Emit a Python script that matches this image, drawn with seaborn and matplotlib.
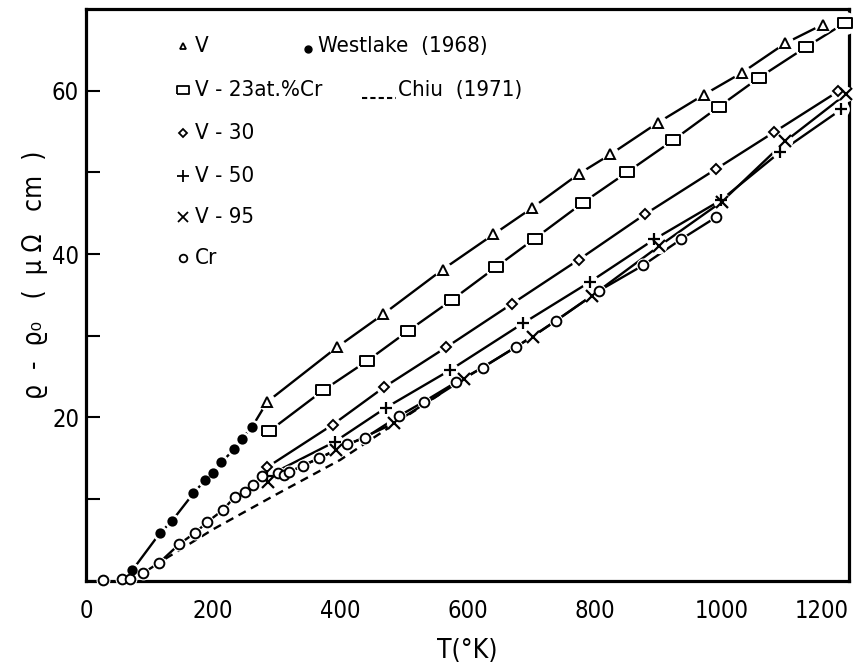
import matplotlib
matplotlib.use('Agg')  # Use non-GUI backend
import matplotlib.pyplot as plt
import seaborn as sns
import pandas as pd
import numpy as np

sns.set_theme(style='white')
plt.rcParams['font.family'] = ['DejaVu Sans']
plt.rcParams['font.stretch'] = 'condensed'

# Resistivity rise rho - rho0 (micro-ohm cm) versus temperature T (K)
v_T = [285, 395, 467, 561, 641, 701, 775, 825, 900, 972, 1032, 1100, 1159]
v_R = [21.9, 28.6, 32.6, 38.1, 42.4, 45.6, 49.8, 52.2, 56.1, 59.5, 62.2, 65.8, 68.1]

v23_T = [288, 373, 442, 507, 576, 645, 706, 782, 851, 923, 995, 1059, 1132, 1194]
v23_R = [18.3, 23.3, 26.9, 30.6, 34.4, 38.4, 41.9, 46.3, 50.0, 53.9, 58.0, 61.6, 65.3, 68.3]

v30_T = [285, 388, 469, 567, 670, 775, 880, 991, 1082, 1183]
v30_R = [13.9, 19.1, 23.7, 28.6, 33.9, 39.3, 44.9, 50.4, 54.9, 59.9]

v50_T = [285, 391, 472, 573, 687, 793, 894, 999, 1092, 1188]
v50_R = [12.8, 17.0, 21.2, 25.8, 31.5, 36.6, 41.8, 46.6, 52.5, 57.7]

v95_T = [286, 394, 485, 594, 703, 796, 902, 1000, 1100, 1196]
v95_R = [12.1, 16.0, 19.3, 24.7, 29.9, 34.9, 41.0, 46.4, 53.8, 59.6]

cr_T = [27, 57, 70, 89, 115, 147, 172, 191, 216, 234, 250, 263, 277, 302, 312, 320,
        341, 367, 410, 439, 493, 531, 582, 624, 676, 739, 807, 876, 936, 991]
cr_R = [0.1, 0.2, 0.2, 0.9, 2.2, 4.5, 5.9, 7.2, 8.7, 10.3, 10.9, 11.7, 12.8, 13.2, 13.0, 13.3,
        14.1, 15.0, 16.7, 17.5, 20.2, 21.9, 24.3, 26.1, 28.6, 31.8, 35.5, 38.6, 41.8, 44.5]

westlake_T = [73, 116, 135, 169, 187, 199, 213, 233, 245, 261]
westlake_R = [1.3, 5.8, 7.3, 10.7, 12.3, 13.2, 14.5, 16.1, 17.4, 18.8]

chiu_T = [125, 200, 300, 400, 460, 560]
chiu_R = [2.7, 6.3, 10.6, 14.8, 17.9, 23.0]

x_ticks = [0, 200, 400, 600, 800, 1000, 1200]
y_ticks = [0, 20, 40, 60]
y_minor = [10, 30, 50]

fig = plt.figure(figsize=(8.6, 6.66), dpi=100)
ax = fig.add_axes([0.100, 0.128, 0.887, 0.8585])

rect = [(-1.45, -1.0), (1.45, -1.0), (1.45, 1.0), (-1.45, 1.0), (-1.45, -1.0)]


def draw_line(T, R, ls='-'):
    df = pd.DataFrame({'T': T, 'R': R})
    sns.lineplot(data=df, x='T', y='R', color='black', lw=1.7, ls=ls,
                 sort=False, estimator=None, ax=ax, zorder=2)


def draw_marks(T, R, marker, ms, face='white', halo=5, mew=1.4):
    ax.plot(T, R, ls='none', marker='o', ms=ms + halo, mfc='white', mec='white',
            zorder=3, clip_on=False)
    ax.plot(T, R, ls='none', marker=marker, ms=ms, mfc=face, mec='black', mew=mew,
            zorder=4, clip_on=False)


# connecting lines
draw_line(westlake_T + v_T[:1], westlake_R + v_R[:1])
draw_line(v_T, v_R)
draw_line(v23_T, v23_R)
draw_line(v30_T, v30_R)
draw_line(v50_T, v50_R)
draw_line(v95_T, v95_R)
draw_line(cr_T[3:], cr_R[3:])
draw_line(chiu_T, chiu_R, ls=(0, (3.5, 2.5)))

# markers
draw_marks(v_T, v_R, '^', 6.5)
draw_marks(v23_T, v23_R, rect, 10.5)
draw_marks(v30_T, v30_R, 'D', 5.5)
draw_marks(v50_T, v50_R, '+', 9, halo=2, mew=1.6)
draw_marks(v95_T, v95_R, 'x', 8, halo=2, mew=1.6)
draw_marks(cr_T, cr_R, 'o', 7, halo=2)
draw_marks(westlake_T, westlake_R, 'o', 6, face='black', halo=4)

ax.set_xlim(0, 1200)
ax.set_ylim(0, 70)
ax.set_xticks(x_ticks)
ax.set_yticks(y_ticks)
ax.set_yticks(y_minor, minor=True)
ax.tick_params(axis='both', which='both', direction='in', color='black',
               labelsize=17, labelcolor='black', width=1.5)
ax.tick_params(axis='x', which='major', length=7, pad=13)
ax.tick_params(axis='y', which='major', length=10, pad=5, left=True)
ax.tick_params(axis='y', which='minor', length=10, left=True)
ax.set_yticklabels(['', '20', '40', '60'])
ax.get_xticklabels()[-1].set_ha('right')
for s in ax.spines.values():
    s.set_color('black')
    s.set_linewidth(2.3)

ax.set_xlabel('T(°K)', fontsize=19, color='black')
ax.xaxis.set_label_coords(0.5, -0.10)
ax.set_ylabel('ϱ  -  ϱ\u2080   (  μ Ω   cm  )', fontsize=19, color='black')
ax.yaxis.set_label_coords(-0.05, 0.535)

# hand drawn key in the upper left
tr = ax.transAxes
key_x, txt_x = 0.127, 0.143
rows = [0.935, 0.858, 0.783, 0.708, 0.636, 0.565]
key = [('^', 5, 'V'), (rect, 8, 'V - 23at.%Cr'), ('D', 4.5, 'V - 30'),
       ('+', 8, 'V - 50'), ('x', 7, 'V - 95'), ('o', 5.5, 'Cr')]
for fy, (m, ms, lab) in zip(rows, key):
    ax.plot([key_x], [fy], marker=m, ms=ms, mfc='white', mec='black', mew=1.3,
            transform=tr, clip_on=False)
    ax.text(txt_x, fy, lab, transform=tr, fontsize=16, va='center', ha='left', color='black')

ax.plot([0.291], [0.930], marker='o', ms=5, mfc='black', mec='black', transform=tr)
ax.text(0.304, 0.935, 'Westlake  (1968)', transform=tr, fontsize=16, va='center', ha='left',
        color='black')
ax.plot([0.362, 0.406], [0.845, 0.845], color='black', lw=1.5, ls=(0, (2.5, 1.5)), transform=tr)
ax.text(0.409, 0.858, 'Chiu  (1971)', transform=tr, fontsize=16, va='center', ha='left',
        color='black')

plt.savefig('out.png', dpi=100, facecolor='white')
plt.close()
